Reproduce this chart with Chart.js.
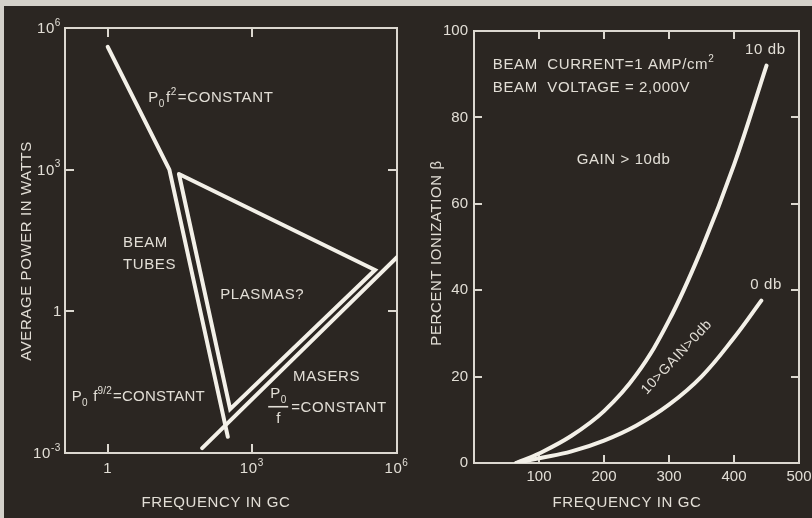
<!DOCTYPE html>
<html>
<head>
<meta charset="utf-8">
<script src="https://cdn.jsdelivr.net/npm/chart.js@4.4.1/dist/chart.umd.min.js"></script>
<style>
  html, body { margin: 0; padding: 0; }
  body { width: 812px; height: 518px; background: #2b2622; position: relative; overflow: hidden; }
  .panel { position: absolute; top: 0; height: 518px; }
  .edge-top { position: absolute; left: 0; top: 0; width: 812px; height: 6px; background: #d4d1ca; }
  .edge-left { position: absolute; left: 0; top: 0; width: 4px; height: 518px; background: #d4d1ca; }
</style>
</head>
<body>
<div class="panel" style="left:0;width:420px"><canvas id="powerChart"></canvas></div>
<div class="panel" style="left:406px;width:406px"><canvas id="ionChart"></canvas></div>
<div class="edge-top"></div>
<div class="edge-left"></div>
<script>
// power vs frequency (log-log)
const beamFreq = [1, 19, 310];
const beamPower = [4e5, 1000, 2.2e-3];
const plasmaFreq = [30, 3.5e5, 346, 30];
const plasmaPower = [810, 7.5, 8.5e-3, 810];
const maserFreq = [91, 1e6];
const maserPower = [1.27e-3, 14];
const freqTicksLog = [1, 1e3, 1e6];
const powerTicks = [1e-3, 1, 1e3, 1e6];

// percent ionization vs frequency
const ionFreq10 = [65, 100, 150, 200, 250, 300, 350, 400, 450];
const ionPct10 = [0, 2.2, 6.3, 12, 20.5, 33, 49.5, 69, 92];
const ionFreq0 = [65, 100, 150, 200, 250, 300, 350, 400, 442];
const ionPct0 = [0, 1.1, 2.7, 5.2, 8.7, 13.5, 20, 29, 37.6];
const ionFreqTicks = [100, 200, 300, 400, 500];
const ionPctTicks = [0, 20, 40, 60, 80, 100];

const INK = "#f3f0e8";
const TEXT = "#e2ded6";
const FRAME = "#dcd8d0";
const FAMILY = '"Liberation Sans", "DejaVu Sans", sans-serif';
const FONT = "15px " + FAMILY;
const SMALL = "10px " + FAMILY;

function pts(xs, ys) {
  return xs.map((x, i) => ({ x, y: ys[i] }));
}

function partsOf(p) {
  return typeof p === "string" ? [p, null] : p;
}

function richWidth(ctx, parts) {
  let w = 0;
  for (const p of parts) {
    const [t, kind] = partsOf(p);
    ctx.font = kind ? SMALL : FONT;
    w += ctx.measureText(t).width + (kind ? 1 : 0);
  }
  return w;
}

// text with sub/superscript pieces, left aligned, vertically centred on y
function drawRich(ctx, x, y, parts) {
  let cx = x;
  for (const p of parts) {
    const [t, kind] = partsOf(p);
    ctx.font = kind ? SMALL : FONT;
    const dy = kind === "sup" ? -6 : kind === "sub" ? 6 : 0;
    ctx.fillText(t, cx, y + dy);
    cx += ctx.measureText(t).width + (kind ? 1 : 0);
  }
}

function powerParts(v) {
  if (v === 1) return ["1"];
  return ["10", [String(Math.round(Math.log10(v))), "sup"]];
}

function drawInwardTicks(chart, len) {
  const { ctx, chartArea: a, scales } = chart;
  const { x, y } = scales;
  ctx.save();
  ctx.strokeStyle = FRAME;
  ctx.lineWidth = 2;
  ctx.strokeRect(a.left, a.top, a.right - a.left, a.bottom - a.top);
  ctx.beginPath();
  x.ticks.forEach((t) => {
    if (t.value <= x.min || t.value >= x.max) return;
    const px = Math.round(x.getPixelForValue(t.value));
    ctx.moveTo(px, a.bottom); ctx.lineTo(px, a.bottom - len);
    ctx.moveTo(px, a.top); ctx.lineTo(px, a.top + len);
  });
  y.ticks.forEach((t) => {
    if (t.value <= y.min || t.value >= y.max) return;
    const py = Math.round(y.getPixelForValue(t.value));
    ctx.moveTo(a.left, py); ctx.lineTo(a.left + len, py);
    ctx.moveTo(a.right, py); ctx.lineTo(a.right - len, py);
  });
  ctx.stroke();
  ctx.restore();
}

function textSetup(ctx) {
  ctx.fillStyle = TEXT;
  ctx.textBaseline = "middle";
  ctx.textAlign = "left";
  ctx.font = FONT;
  ctx.letterSpacing = "0.6px";
}

function axisTitles(ctx, xTitle, yTitle) {
  ctx.save();
  textSetup(ctx);
  ctx.textAlign = "center";
  ctx.fillText(xTitle.text, xTitle.cx, xTitle.cy);
  ctx.translate(yTitle.cx, yTitle.cy);
  ctx.rotate(-Math.PI / 2);
  ctx.fillText(yTitle.text, 0, 0);
  ctx.restore();
}

const lineStyle = {
  showLine: true,
  borderColor: INK,
  borderWidth: 4,
  pointRadius: 0,
  borderCapStyle: "round",
  borderJoinStyle: "miter",
  fill: false,
};

function tickFont() {
  return { family: FAMILY, size: 15 };
}

// ---------- left panel ----------
const powerNotes = {
  id: "powerNotes",
  beforeDatasetsDraw(chart) { drawInwardTicks(chart, 9); },
  afterDatasetsDraw(chart) {
    const { ctx, chartArea: a, scales: { x, y } } = chart;
    const at = (f, p) => [x.getPixelForValue(f), y.getPixelForValue(p)];
    ctx.save();
    textSetup(ctx);

    // powers-of-ten tick labels
    x.ticks.forEach((t) => {
      const parts = powerParts(t.value);
      const w = richWidth(ctx, parts);
      drawRich(ctx, x.getPixelForValue(t.value) - w / 2, a.bottom + 16, parts);
    });
    y.ticks.forEach((t) => {
      const parts = powerParts(t.value);
      const w = richWidth(ctx, parts);
      drawRich(ctx, a.left - 3 - w, y.getPixelForValue(t.value) + 1, parts);
    });

    let [px, py] = at(6.9, 3.3e4);
    drawRich(ctx, px, py, ["P", ["0", "sub"], "f", ["2", "sup"], "=CONSTANT"]);
    [px, py] = at(2.08, 28);
    ctx.font = FONT; ctx.fillText("BEAM", px, py);
    [px, py] = at(2.08, 9.6);
    ctx.fillText("TUBES", px, py);
    [px, py] = at(215, 2.2);
    ctx.fillText("PLASMAS?", px, py);
    [px, py] = at(0.18, 0.0153);
    ctx.letterSpacing = "0.2px";
    drawRich(ctx, px, py, ["P", ["0", "sub"], " f", ["9/2", "sup"], "=CONSTANT"]);
    ctx.letterSpacing = "0.6px";
    [px, py] = at(7000, 0.0406);
    ctx.font = FONT; ctx.fillText("MASERS", px, py);
    // P0 / f fraction
    [px, py] = at(2130, 0.009);
    drawRich(ctx, px + 2, py - 14, ["P", ["0", "sub"]]);
    ctx.font = FONT;
    ctx.fillText("f", px + 8, py + 11);
    ctx.fillRect(px, py - 2, 20, 1.6);
    ctx.fillText("=CONSTANT", px + 23, py);
    ctx.restore();
    axisTitles(ctx,
      { text: "FREQUENCY IN GC", cx: 216, cy: 503 },
      { text: "AVERAGE POWER IN WATTS", cx: 27, cy: 251 });
  },
};

new Chart(document.getElementById("powerChart"), {
  type: "scatter",
  data: {
    datasets: [
      { ...lineStyle, data: pts(beamFreq, beamPower) },
      { ...lineStyle, data: pts(plasmaFreq, plasmaPower) },
      { ...lineStyle, data: pts(maserFreq, maserPower) },
    ],
  },
  options: {
    responsive: true,
    maintainAspectRatio: false,
    animation: false,
    layout: { padding: { top: 28, right: 23, left: 0, bottom: 0 } },
    plugins: { legend: { display: false }, tooltip: { enabled: false } },
    scales: {
      x: {
        type: "logarithmic",
        min: 0.13,
        max: 1e6,
        afterBuildTicks: (s) => { s.ticks = freqTicksLog.map((v) => ({ value: v })); },
        afterFit: (s) => { s.height = 65; s.paddingLeft = 0; s.paddingRight = 0; },
        grid: { display: false, drawTicks: false },
        border: { display: false },
        ticks: { display: false },
      },
      y: {
        type: "logarithmic",
        min: 1e-3,
        max: 1e6,
        afterBuildTicks: (s) => { s.ticks = powerTicks.map((v) => ({ value: v })); },
        afterFit: (s) => { s.width = 65; s.paddingTop = 0; s.paddingBottom = 0; },
        grid: { display: false, drawTicks: false },
        border: { display: false },
        ticks: { display: false },
      },
    },
  },
  plugins: [powerNotes],
});

// ---------- right panel ----------
const ionNotes = {
  id: "ionNotes",
  beforeDatasetsDraw(chart) { drawInwardTicks(chart, 8); },
  afterDatasetsDraw(chart) {
    const { ctx, scales: { x, y } } = chart;
    const at = (f, p) => [x.getPixelForValue(f), y.getPixelForValue(p)];
    ctx.save();
    textSetup(ctx);
    let [px, py] = at(29, 92.1);
    drawRich(ctx, px, py, ["BEAM  CURRENT=1 AMP/cm", ["2", "sup"]]);
    [px, py] = at(29, 86.8);
    ctx.font = FONT; ctx.fillText("BEAM  VOLTAGE = 2,000V", px, py);
    [px, py] = at(158, 70.2);
    ctx.fillText("GAIN > 10db", px, py);
    [px, py] = at(417, 95.6);
    ctx.fillText("10 db", px, py);
    [px, py] = at(425, 41.3);
    ctx.fillText("0 db", px, py);
    [px, py] = at(312, 24.5);
    ctx.translate(px, py);
    ctx.rotate(-47 * Math.PI / 180);
    ctx.textAlign = "center";
    ctx.font = "14px " + FAMILY;
    ctx.fillText("10>GAIN>0db", 0, 0);
    ctx.restore();
    axisTitles(ctx,
      { text: "FREQUENCY IN GC", cx: 221, cy: 503 },
      { text: "PERCENT IONIZATION \u03b2", cx: 31, cy: 253 });
  },
};

const curveStyle = { ...lineStyle, tension: 0.4, borderCapStyle: "round" };

new Chart(document.getElementById("ionChart"), {
  type: "scatter",
  data: {
    datasets: [
      { ...curveStyle, label: "10 db", data: pts(ionFreq10, ionPct10) },
      { ...curveStyle, label: "0 db", data: pts(ionFreq0, ionPct0) },
    ],
  },
  options: {
    responsive: true,
    maintainAspectRatio: false,
    animation: false,
    layout: { padding: { top: 31, right: 13, left: 0, bottom: 0 } },
    plugins: { legend: { display: false }, tooltip: { enabled: false } },
    scales: {
      x: {
        type: "linear",
        min: 0,
        max: 500,
        afterBuildTicks: (s) => { s.ticks = ionFreqTicks.map((v) => ({ value: v })); },
        afterFit: (s) => { s.height = 55; s.paddingLeft = 0; s.paddingRight = 0; },
        grid: { display: false, drawTicks: false },
        border: { display: false },
        ticks: { color: TEXT, font: tickFont(), padding: 5, maxRotation: 0, autoSkip: false },
      },
      y: {
        type: "linear",
        min: 0,
        max: 100,
        afterBuildTicks: (s) => { s.ticks = ionPctTicks.map((v) => ({ value: v })); },
        afterFit: (s) => { s.width = 68; s.paddingTop = 0; s.paddingBottom = 0; },
        grid: { display: false, drawTicks: false },
        border: { display: false },
        ticks: { color: TEXT, font: tickFont(), padding: 6, autoSkip: false },
      },
    },
  },
  plugins: [ionNotes],
});
</script>
</body>
</html>
